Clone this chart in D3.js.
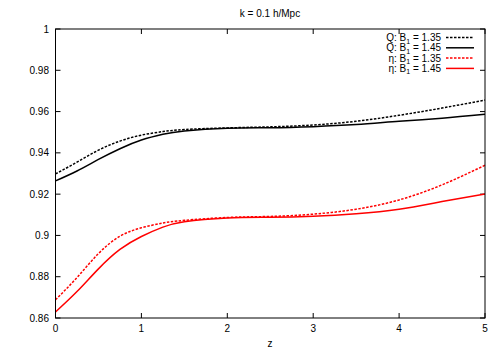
<!DOCTYPE html>
<html>
<head>
<meta charset="utf-8">
<script src="https://cdn.jsdelivr.net/npm/d3@7"></script>
<style>
  body { margin: 0; background: #fff; }
  text { font-family: "Liberation Sans", Arial, sans-serif; font-size: 10px; fill: #000; }
</style>
</head>
<body>
<script>
const width = 500;
const height = 350;

// redshift samples and the four curves
const zs     = [0, 0.25, 0.5, 0.75, 1, 1.25, 1.5, 2, 2.5, 3, 3.5, 4, 4.5, 5];
const q135   = [0.9298, 0.9355, 0.9413, 0.9457, 0.9486, 0.9503, 0.9513, 0.9521, 0.9526, 0.9535, 0.9553, 0.9582, 0.9617, 0.9656];
const q145   = [0.9264, 0.9312, 0.9368, 0.9420, 0.9462, 0.9490, 0.9506, 0.9519, 0.9522, 0.9527, 0.9537, 0.9553, 0.9568, 0.9587];
const eta135 = [0.8688, 0.8796, 0.8912, 0.8996, 0.9037, 0.9060, 0.9073, 0.9087, 0.9092, 0.9103, 0.9127, 0.9172, 0.9245, 0.9340];
const eta145 = [0.8629, 0.8728, 0.8838, 0.8932, 0.8995, 0.9040, 0.9066, 0.9084, 0.9088, 0.9093, 0.9105, 0.9127, 0.9164, 0.9201];

const xTicks = [0, 1, 2, 3, 4, 5];
const yTicks = [0.86, 0.88, 0.9, 0.92, 0.94, 0.96, 0.98, 1];

const series = [
  {pre: "Q: B", post: " = 1.35", values: q135,   color: "#000", dash: "2.5,1.5"},
  {pre: "Q: B", post: " = 1.45", values: q145,   color: "#000", dash: null},
  {pre: "η: B", post: " = 1.35", values: eta135, color: "#f00", dash: "2.5,1.5"},
  {pre: "η: B", post: " = 1.45", values: eta145, color: "#f00", dash: null}
];

const m = {left: 55.5, right: 485, top: 29, bottom: 318};

const x = d3.scaleLinear().domain([0, 5]).range([m.left, m.right]);
const y = d3.scaleLinear().domain([0.86, 1]).range([m.bottom, m.top]);

const svg = d3.select("body").append("svg")
              .attr("width", width)
              .attr("height", height);

// ticks, drawn inward on all four sides like gnuplot
const tl = 5;
const ticks = svg.append("g").attr("stroke", "#000").attr("stroke-width", 1);
xTicks.forEach(t => {
  ticks.append("line").attr("x1", x(t)).attr("x2", x(t)).attr("y1", m.bottom).attr("y2", m.bottom - tl);
  ticks.append("line").attr("x1", x(t)).attr("x2", x(t)).attr("y1", m.top).attr("y2", m.top + tl);
});
yTicks.forEach(t => {
  ticks.append("line").attr("x1", m.left).attr("x2", m.left + tl).attr("y1", y(t)).attr("y2", y(t));
  ticks.append("line").attr("x1", m.right).attr("x2", m.right - tl).attr("y1", y(t)).attr("y2", y(t));
});

svg.append("g").selectAll("text")
   .data(xTicks)
   .join("text")
   .attr("x", d => x(d))
   .attr("y", 332)
   .attr("text-anchor", "middle")
   .text(d => d3.format("")(d));

svg.append("g").selectAll("text")
   .data(yTicks)
   .join("text")
   .attr("x", 49)
   .attr("y", d => y(d) + 3.5)
   .attr("text-anchor", "end")
   .text(d => d3.format("")(d));

svg.append("text").attr("x", 270).attr("y", 17).attr("text-anchor", "middle").text("k = 0.1 h/Mpc");
svg.append("text").attr("x", 270).attr("y", 347).attr("text-anchor", "middle").text("z");

// curves
const line = d3.line()
  .x((d, i) => x(zs[i]))
  .y(d => y(d))
  .curve(d3.curveNatural);

svg.append("g").selectAll("path")
   .data(series)
   .join("path")
   .attr("fill", "none")
   .attr("stroke", d => d.color)
   .attr("stroke-width", 1.5)
   .attr("stroke-dasharray", d => d.dash)
   .attr("d", d => line(d.values));

// legend
const leg = svg.append("g");
series.forEach((s, i) => {
  const ly = 37.5 + i * 10.3;
  const t = leg.append("text").attr("x", 441).attr("y", ly + 3.5).attr("text-anchor", "end");
  t.append("tspan").text(s.pre);
  t.append("tspan").attr("dy", 2.5).attr("font-size", "7px").text("1");
  t.append("tspan").attr("dy", -2.5).text(s.post);
  leg.append("line")
     .attr("x1", 446).attr("x2", 474).attr("y1", ly).attr("y2", ly)
     .attr("stroke", s.color)
     .attr("stroke-width", 1.5)
     .attr("stroke-dasharray", s.dash);
});

// border
svg.append("rect")
   .attr("x", m.left).attr("y", m.top)
   .attr("width", m.right - m.left).attr("height", m.bottom - m.top)
   .attr("fill", "none")
   .attr("stroke", "#000")
   .attr("stroke-width", 1);
</script>
</body>
</html>
